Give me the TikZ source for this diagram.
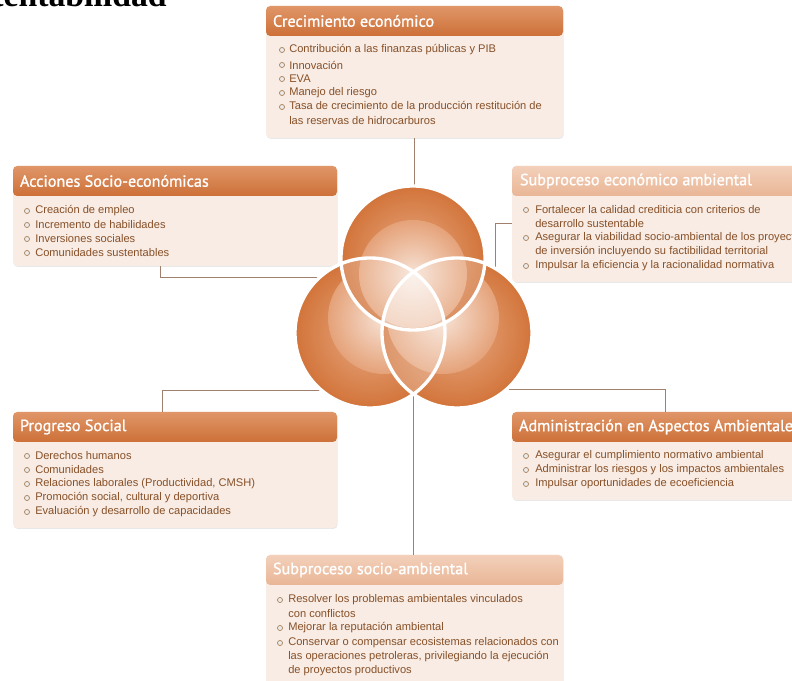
\documentclass[tikz,border=0pt]{standalone}
\usepackage{fontspec}
\setmainfont{Liberation Sans}
\newfontfamily\headfont[FakeBold=1.2]{PT Sans}
\newfontfamily\capfont{Liberation Serif}
\usetikzlibrary{fit,shadows}

\definecolor{hdark}{RGB}{205,112,56}
\definecolor{hlight}{RGB}{224,150,104}
\definecolor{fdark}{RGB}{233,182,150}
\definecolor{flight}{RGB}{243,208,186}
\definecolor{bodyc}{RGB}{248,236,228}
\definecolor{itemc}{RGB}{135,80,40}
\definecolor{linec}{RGB}{160,128,108}
\definecolor{odark}{RGB}{210,116,58}
\definecolor{omid}{RGB}{232,170,132}
\definecolor{olight}{RGB}{247,226,213}

\tikzset{
  boxbody/.style={fill=bodyc, rounded corners=3pt, inner sep=0pt,
    drop shadow={shadow xshift=0.4pt, shadow yshift=-0.7pt, opacity=0.18}},
  head/.style={top color=hlight, bottom color=hdark, rounded corners=3pt, inner sep=0pt},
  fadehead/.style={top color=flight, bottom color=fdark, rounded corners=3pt, inner sep=0pt},
  title/.style={font=\headfont\fontsize{11.5}{13}\selectfont, text=white, anchor=west, inner sep=0pt},
  item/.style={font=\fontsize{7.9}{10}\selectfont, text=itemc, anchor=west, inner sep=0pt},
  bul/.style={draw=brown!60!gray, fill=gray!15, line width=0.5pt},
  conn/.style={draw=linec, line width=0.6pt},
  ring/.style={draw=white, line width=2.4pt}
}

\begin{document}
\begin{tikzpicture}[x=0.025cm,y=-0.025cm]
  \useasboundingbox (0,0) rectangle (792,681);

  % cut heading
  \node[anchor=base east, inner sep=0pt, font=\capfont\bfseries\fontsize{24}{26}\selectfont]
    (cap) at (167,7) {Sustentabilidad};

  % boxes
  \node[boxbody, fit={(266,6) (563,138)}] (ce) {};
  \node[head, fit={(266,6) (563,36)}] (ceh) {};
  \node[title] at ([xshift=0.175cm]ceh.west) {Crecimiento económico};

  \node[boxbody, fit={(13,166) (337,266)}] (ac) {};
  \node[head, fit={(13,166) (337,196)}] (ach) {};
  \node[title] at ([xshift=0.175cm]ach.west) {Acciones Socio-económicas};

  \node[boxbody, fit={(512,166) (810,282)}] (sea) {};
  \node[fadehead, fit={(512,166) (810,196)}] (seah) {};
  \node[title] at ([xshift=0.2cm]seah.west) {Subproceso económico ambiental};

  \node[boxbody, fit={(13,412) (337,528)}] (ps) {};
  \node[head, fit={(13,412) (337,442)}] (psh) {};
  \node[title] at ([xshift=0.175cm]psh.west) {Progreso Social};

  \node[boxbody, fit={(512,412) (810,500)}] (aaa) {};
  \node[head, fit={(512,412) (810,442)}] (aaah) {};
  \node[title] at ([xshift=0.175cm]aaah.west) {Administración en Aspectos Ambientales};

  \node[boxbody, fit={(266,555) (563,700)}] (ssa) {};
  \node[fadehead, fit={(266,555) (563,585)}] (ssah) {};
  \node[title] at ([xshift=0.175cm]ssah.west) {Subproceso socio-ambiental};

  % items
  \foreach \y/\t in {50/{Contribución a las finanzas públicas y PIB}, 65/Innovación, 79/EVA,
      93/Manejo del riesgo, 107/Tasa de crecimiento de la producción restitución de}
  {
    \draw[bul] (282,\y) circle[radius=1.8pt];
    \node[item] at (289,\y) {\t};
  }
  \node[item] at (289,121) {las reservas de hidrocarburos};

  \foreach \y/\t in {211/Creación de empleo, 225/Incremento de habilidades,
      239/Inversiones sociales, 253/Comunidades sustentables}
  {
    \draw[bul] (27,\y) circle[radius=1.8pt];
    \node[item] at (35,\y) {\t};
  }

  \foreach \y/\t in {210/Fortalecer la calidad crediticia con criterios de,
      238/Asegurar la viabilidad socio-ambiental de los proyectos,
      266/Impulsar la eficiencia y la racionalidad normativa}
  {
    \draw[bul] (526,\y) circle[radius=1.8pt];
    \node[item] at (535,\y) {\t};
  }
  \node[item] at (535,224) {desarrollo sustentable};
  \node[item] at (535,252) {de inversión incluyendo su factibilidad territorial};

  \foreach \y/\t in {456/Derechos humanos, 470/Comunidades,
      484/{Relaciones laborales (Productividad, CMSH)},
      498/{Promoción social, cultural y deportiva},
      512/Evaluación y desarrollo de capacidades}
  {
    \draw[bul] (27,\y) circle[radius=1.8pt];
    \node[item] at (35,\y) {\t};
  }

  \foreach \y/\t in {456/Asegurar el cumplimiento normativo ambiental,
      470/Administrar los riesgos y los impactos ambientales,
      484/Impulsar oportunidades de ecoeficiencia}
  {
    \draw[bul] (526,\y) circle[radius=1.8pt];
    \node[item] at (535,\y) {\t};
  }

  \foreach \y/\t in {600/Resolver los problemas ambientales vinculados,
      628/Mejorar la reputación ambiental,
      643/Conservar o compensar ecosistemas relacionados con}
  {
    \draw[bul] (280,\y) circle[radius=1.8pt];
    \node[item] at (288,\y) {\t};
  }
  \node[item] at (288,614) {con conflictos};
  \node[item] at (288,657) {las operaciones petroleras, privilegiando la ejecución};
  \node[item] at (288,671) {de proyectos productivos};

  % connectors
  \coordinate (ctop) at (413,190);
  \coordinate (cac) at (342,277);
  \coordinate (csea) at (480,268);
  \coordinate (cps) at (322,390);
  \coordinate (caaa) at (503,389);
  \coordinate (cbot) at (413,390);
  \draw[conn] (ce.south) -- (ce.south |- ctop);
  \draw[conn] ([xshift=-0.375cm]ac.south) |- (cac);
  \draw[conn] (sea.west |- 0,223) -- ++(-16,0) |- (csea);
  \draw[conn] ([xshift=-0.325cm]ps.north) |- (cps);
  \draw[conn] ([xshift=0.1cm]aaa.north) |- (caaa);
  \draw[conn] (cbot) -- (cbot |- ssa.north);

  % venn
  \coordinate (vt) at (413,258);
  \coordinate (vl) at (370,333);
  \coordinate (vr) at (457,333);
  \shade[inner color=omid, outer color=odark] (vl) circle (1.875cm);
  \shade[inner color=olight, outer color=omid!85!odark] (384,318) circle (1.4cm);
  \shade[inner color=omid, outer color=odark] (vr) circle (1.875cm);
  \shade[inner color=olight, outer color=omid!85!odark] (443,318) circle (1.4cm);
  \begin{scope}
    \clip (vr) circle (1.875cm);
    \fill[white, opacity=0.25] (vl) circle (1.875cm);
  \end{scope}
  \shade[inner color=omid, outer color=odark] (vt) circle (1.8cm);
  \shade[inner color=olight, outer color=omid!85!odark] (413,274) circle (1.35cm);
  \begin{scope}
    \clip (vt) circle (1.8cm);
    \fill[white, opacity=0.2] (vl) circle (1.875cm);
    \fill[white, opacity=0.2] (vr) circle (1.875cm);
  \end{scope}
  \begin{scope}
    \clip (vt) circle (1.8cm);
    \clip (vl) circle (1.875cm);
    \fill[white, opacity=0.35] (vr) circle (1.875cm);
  \end{scope}
  \draw[ring] (vl) circle (1.875cm);
  \draw[ring] (vr) circle (1.875cm);
  \draw[ring] (vt) circle (1.8cm);
\end{tikzpicture}
\end{document}
